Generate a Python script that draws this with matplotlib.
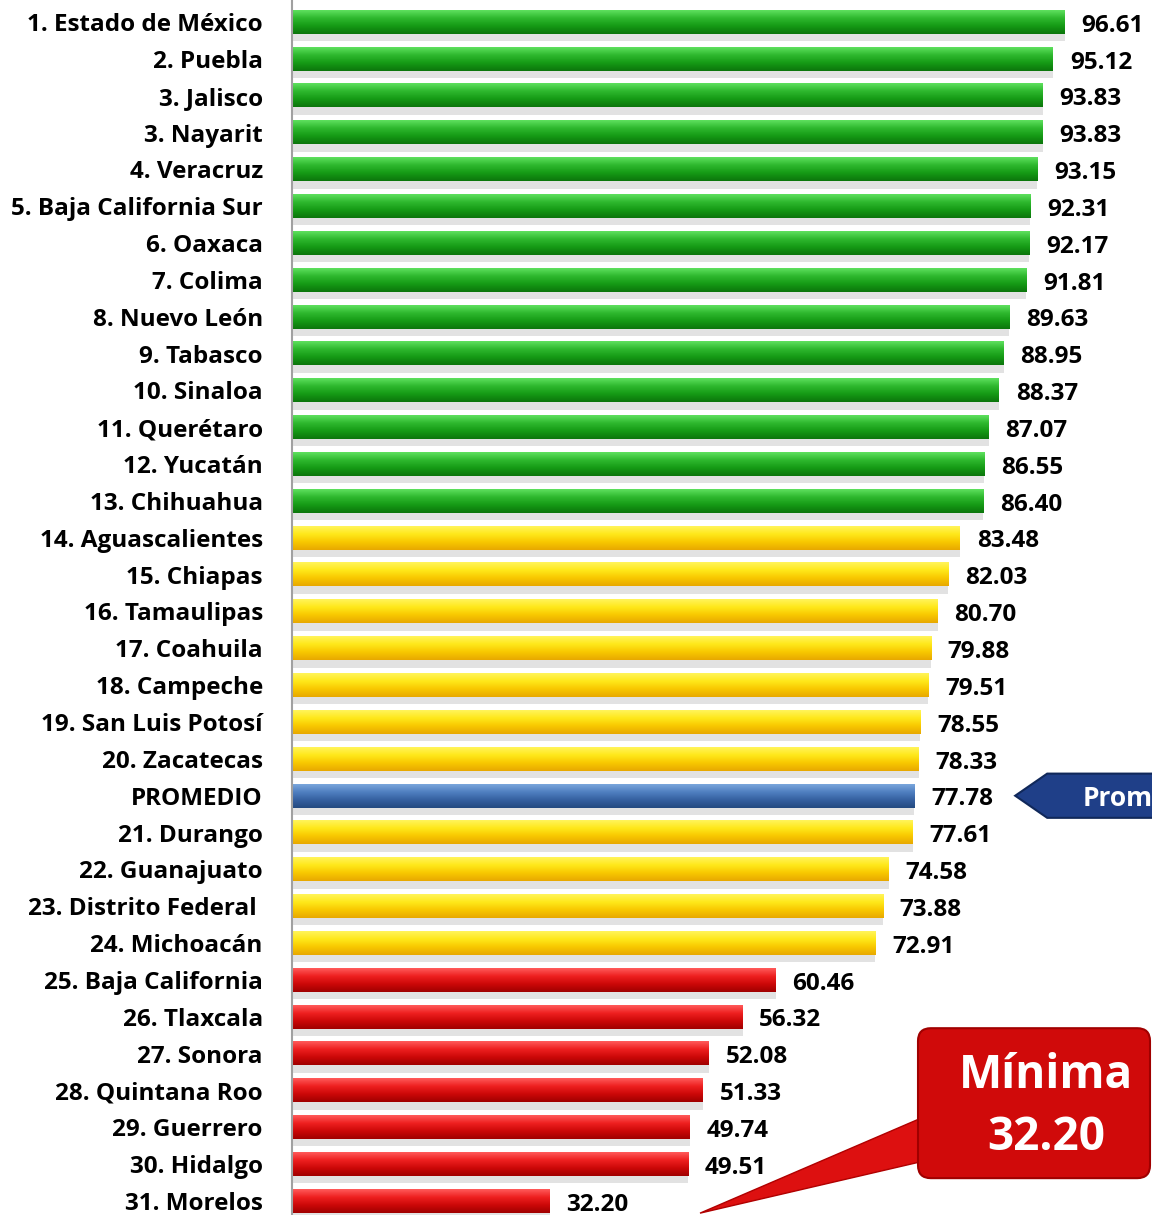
import numpy as np
import matplotlib
matplotlib.use("Agg")
import matplotlib.pyplot as plt
from matplotlib.patches import Polygon, FancyBboxPatch
from matplotlib.colors import LinearSegmentedColormap

states = ["1. Estado de México", "2. Puebla", "3. Jalisco", "3. Nayarit", "4. Veracruz",
          "5. Baja California Sur", "6. Oaxaca", "7. Colima", "8. Nuevo León", "9. Tabasco",
          "10. Sinaloa", "11. Querétaro", "12. Yucatán", "13. Chihuahua", "14. Aguascalientes",
          "15. Chiapas", "16. Tamaulipas", "17. Coahuila", "18. Campeche", "19. San Luis Potosí",
          "20. Zacatecas", "PROMEDIO", "21. Durango", "22. Guanajuato", "23. Distrito Federal ",
          "24. Michoacán", "25. Baja California", "26. Tlaxcala", "27. Sonora", "28. Quintana Roo",
          "29. Guerrero", "30. Hidalgo", "31. Morelos"]
values = [96.61, 95.12, 93.83, 93.83, 93.15, 92.31, 92.17, 91.81, 89.63, 88.95, 88.37, 87.07,
          86.55, 86.40, 83.48, 82.03, 80.70, 79.88, 79.51, 78.55, 78.33, 77.78, 77.61, 74.58,
          73.88, 72.91, 60.46, 56.32, 52.08, 51.33, 49.74, 49.51, 32.20]
groups = ["g"] * 14 + ["y"] * 7 + ["b"] + ["y"] * 4 + ["r"] * 7

palettes = {
    "g": ["#5ee05e", "#2eb82e", "#159a15", "#0c760c"],
    "y": ["#fff45a", "#ffe81a", "#f8c800", "#e8a800"],
    "b": ["#7aa6dc", "#4f7fc0", "#3560a0", "#244a80"],
    "r": ["#ff5a5a", "#ee2020", "#cc0808", "#a00000"],
}

plt.rcParams['font.family'] = ['Open Sans', 'DejaVu Sans']
fig = plt.figure(figsize=(11.52, 12.15), dpi=100)
ax = fig.add_axes([292 / 1152, 0, 1 - 292 / 1152, 1])

n = len(values)
step = (1201 - 22) / (n - 1)
h = 0.64
grad = np.linspace(0, 1, 64).reshape(-1, 1)
for i, (v, g) in enumerate(zip(values, groups)):
    cmap = LinearSegmentedColormap.from_list(g, palettes[g])
    ax.barh(i + h / 2 + 0.1, v, height=0.2, left=0, color="#e2e2e2", zorder=1)
    ax.imshow(grad, cmap=cmap, aspect="auto", extent=(0, v, i + h / 2, i - h / 2),
              zorder=2, interpolation="bilinear")
    ax.text(v + 2.1, i + 0.1, f"{v:.2f}", va="center", ha="left", fontsize=17.5,
            fontweight="bold", color="black", zorder=3)

ax.set_xlim(0, 860 / 8)
ax.set_ylim(n - 1 + 14 / step, -22 / step)
ax.set_yticks(range(n))
ax.set_yticklabels(states, fontsize=17.5, fontweight="bold")
ax.tick_params(axis="y", length=0, pad=21)
ax.set_xticks([])
for s in ["top", "right", "bottom"]:
    ax.spines[s].set_visible(False)
ax.spines["left"].set_color("#a0a0a0")
ax.spines["left"].set_linewidth(1.5)

# Promedio arrow
yp = 21
arrow = Polygon([(90.4, yp), (94.4, yp - 0.6), (115, yp - 0.6), (115, yp + 0.6), (94.4, yp + 0.6)],
                closed=True, facecolor="#1f3f88", edgecolor="#10285a", lw=1.5, zorder=4, clip_on=False)
ax.add_patch(arrow)
ax.text(98.8, yp + 0.08, "Promedio", color="white", fontsize=19, fontweight="bold",
        va="center", ha="left", zorder=5, clip_on=False)

# Mínima callout
tail = Polygon([(79.5, 29.67), (79.5, 30.89), (51.0, 32.33)], closed=True,
               facecolor="#dd1010", edgecolor="#b00000", lw=1, zorder=4, clip_on=False)
ax.add_patch(tail)
box = FancyBboxPatch((78.25, 27.31), 29.0, 4.07, boxstyle="round,pad=0,rounding_size=1.6",
                     mutation_aspect=8 / step,
                     facecolor="#d00a0a", edgecolor="#a00000", lw=1.5, zorder=5, clip_on=False)
ax.add_patch(box)
ax.text(94.3, (1075 - 22) / step, "Mínima", color="white", fontsize=33, fontweight="bold",
        va="center", ha="center", zorder=6)
ax.text(94.3, (1138 - 22) / step, "32.20", color="white", fontsize=33, fontweight="bold",
        va="center", ha="center", zorder=6)

fig.savefig("out.png", dpi=100)
